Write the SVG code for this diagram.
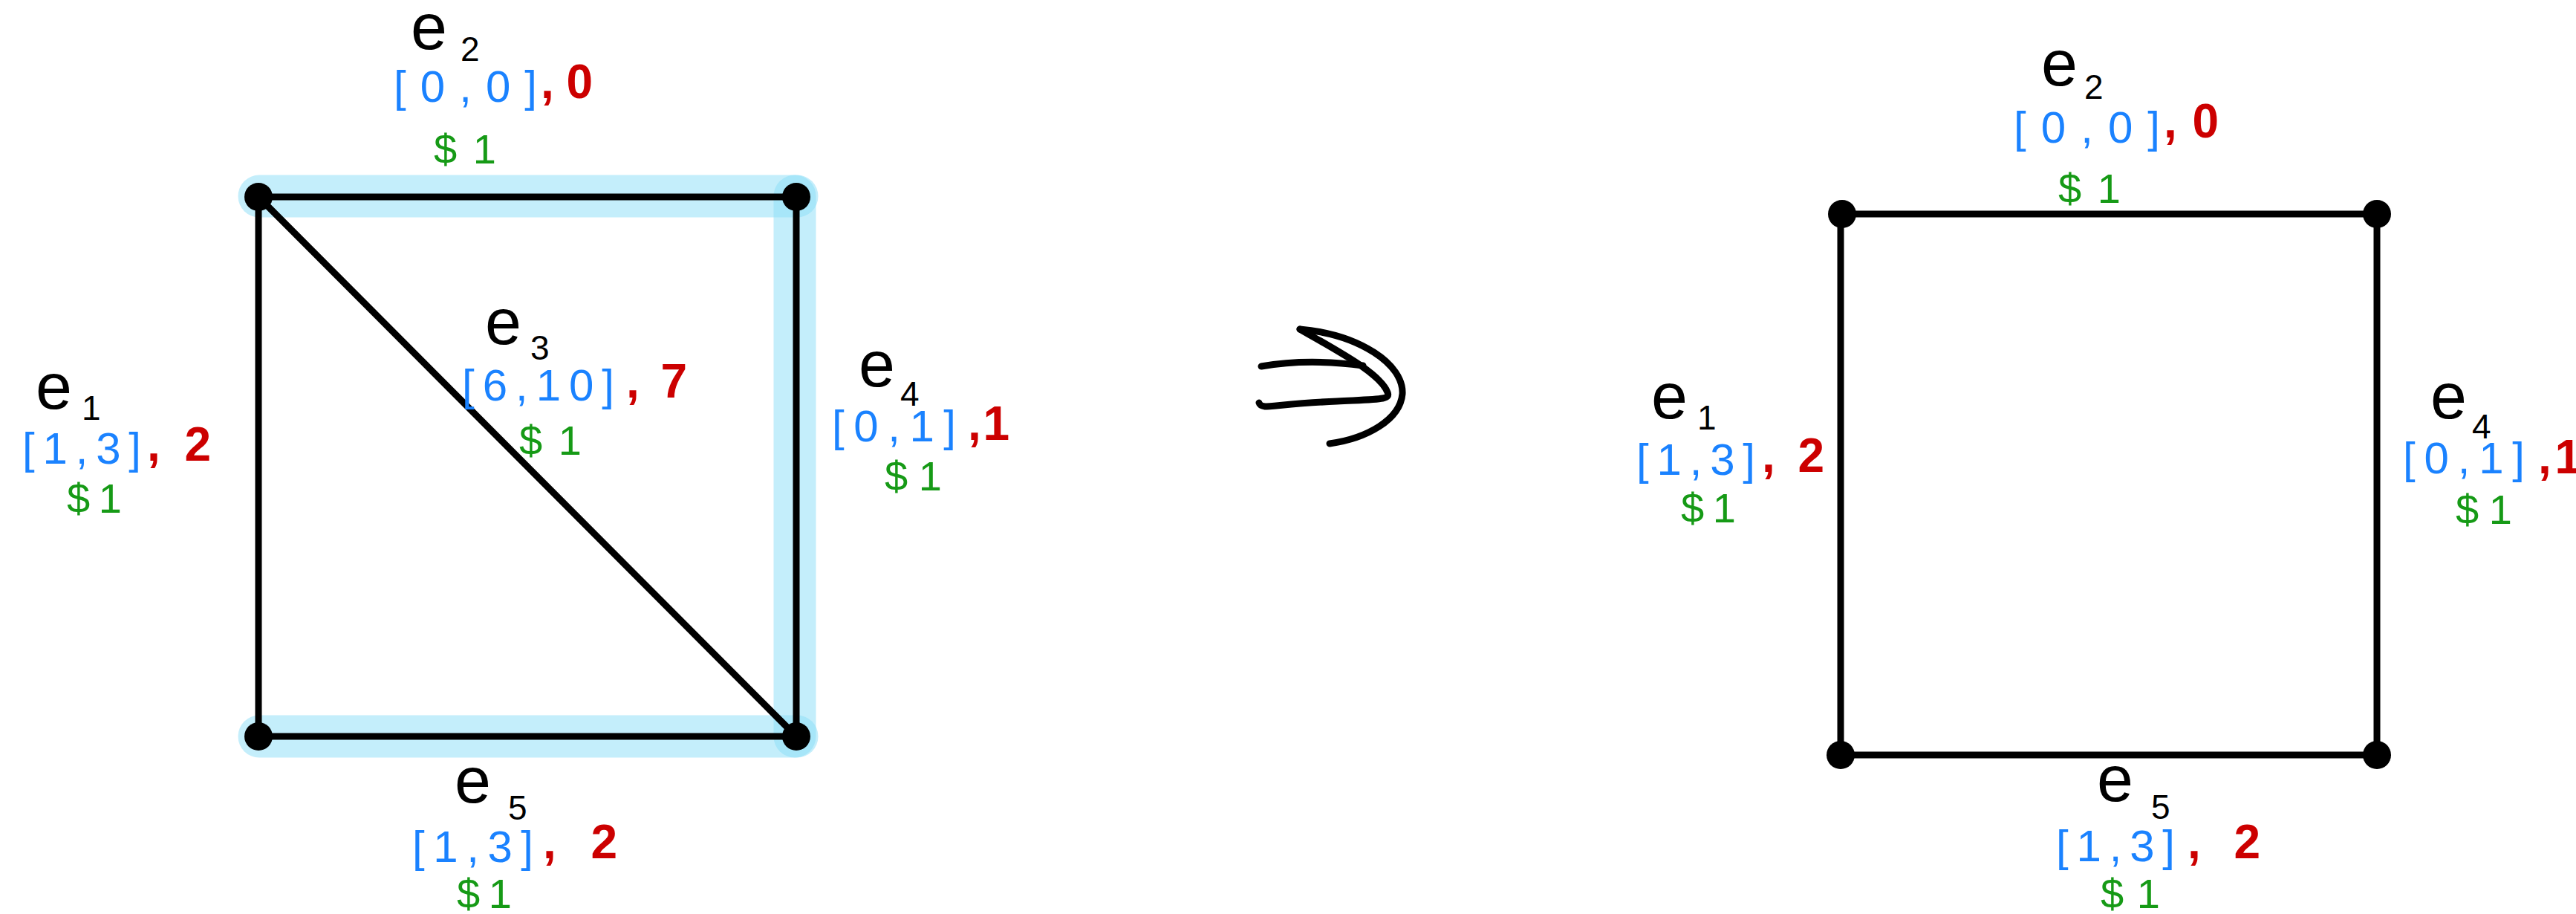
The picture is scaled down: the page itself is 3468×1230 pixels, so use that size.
<svg xmlns="http://www.w3.org/2000/svg" width="3468" height="1230" viewBox="0 0 3468 1230">
<style>
.hl{stroke:rgb(137,221,247);stroke-opacity:0.5;stroke-width:57;stroke-linecap:round;fill:none}
.edge{stroke:#000;stroke-width:9;stroke-linecap:round;fill:none}
.node{fill:#000}
.arrow{stroke:#000;stroke-width:9;stroke-linecap:round;stroke-linejoin:round;fill:none}
.e{font-family:"Liberation Sans",Arial,sans-serif;font-size:88px;fill:#000}
.sub{font-size:46px}
.iv{font-family:"Liberation Sans",Arial,sans-serif;font-size:60px;fill:#1a82ff}
.fl{font-family:"Liberation Sans",Arial,sans-serif;font-size:64px;font-weight:bold;fill:#cc0000}
.cost{font-family:"Liberation Sans",Arial,sans-serif;font-size:56px;fill:#169a16}
</style>
<g id="highlights">
<line class="hl" x1="349" y1="264" x2="1073" y2="264"/>
<line class="hl" x1="1070" y1="264" x2="1070" y2="991"/>
<line class="hl" x1="349" y1="991" x2="1073" y2="991"/>
</g>
<g id="connectors">
<line class="edge" x1="348" y1="265" x2="1073" y2="265"/>
<line class="edge" x1="348" y1="265" x2="348" y2="991"/>
<line class="edge" x1="1072" y1="265" x2="1072" y2="991"/>
<line class="edge" x1="348" y1="991" x2="1072" y2="991"/>
<line class="edge" x1="348" y1="265" x2="1072" y2="991"/>
<line class="edge" x1="2480" y1="288" x2="3200" y2="288"/>
<line class="edge" x1="2478" y1="288" x2="2478" y2="1016"/>
<line class="edge" x1="3200" y1="288" x2="3200" y2="1016"/>
<line class="edge" x1="2478" y1="1016" x2="3200" y2="1016"/>
</g>
<g id="nodes">
<g id="L_tl"><circle class="node" cx="348" cy="265" r="19"/></g>
<g id="L_tr"><circle class="node" cx="1072" cy="265" r="19"/></g>
<g id="L_bl"><circle class="node" cx="348" cy="991" r="19"/></g>
<g id="L_br"><circle class="node" cx="1072" cy="991" r="19"/></g>
<g id="R_tl"><circle class="node" cx="2480" cy="288" r="19"/></g>
<g id="R_tr"><circle class="node" cx="3200" cy="288" r="19"/></g>
<g id="R_bl"><circle class="node" cx="2478" cy="1016" r="19"/></g>
<g id="R_br"><circle class="node" cx="3200" cy="1016" r="19"/></g>
</g>
<g id="arrow">
<path class="arrow" d="M1698,493 Q1760,482 1835,492"/>
<path class="arrow" d="M1750,443 C1800,472 1858,502 1868,528 C1872,538 1860,537 1800,540 C1750,542 1712,547 1703,547 Q1696,546 1695,542"/>
<path class="arrow" d="M1750,443 C1830,450 1890,490 1888,530 C1885,565 1840,590 1790,597"/>
</g>
<g id="label_L_e2">
<text class="e" x="553" y="66">e<tspan class="sub" x="620" y="82">2</tspan></text>
<text class="iv" x="530" y="137" textLength="193" lengthAdjust="spacing">[0,0]</text>
<text class="fl" x="728" y="132" textLength="70" lengthAdjust="spacing">,0</text>
<text class="cost" x="584" y="220" textLength="84" lengthAdjust="spacing">$1</text>
</g>
<g id="label_L_e1">
<text class="e" x="48" y="550">e<tspan class="sub" x="110" y="565">1</tspan></text>
<text class="iv" x="30" y="624" textLength="160" lengthAdjust="spacing">[1,3]</text>
<text class="fl" x="198" y="620" textLength="86" lengthAdjust="spacing">,2</text>
<text class="cost" x="90" y="690" textLength="74" lengthAdjust="spacing">$1</text>
</g>
<g id="label_L_e3">
<text class="e" x="653" y="463">e<tspan class="sub" x="714" y="484">3</tspan></text>
<text class="iv" x="622" y="539" textLength="205" lengthAdjust="spacing">[6,10]</text>
<text class="fl" x="843" y="535" textLength="82" lengthAdjust="spacing">,7</text>
<text class="cost" x="699" y="612" textLength="84" lengthAdjust="spacing">$1</text>
</g>
<g id="label_L_e4">
<text class="e" x="1156" y="520">e<tspan class="sub" x="1212" y="546">4</tspan></text>
<text class="iv" x="1120" y="594" textLength="167" lengthAdjust="spacing">[0,1]</text>
<text class="fl" x="1303" y="592" textLength="56" lengthAdjust="spacing">,1</text>
<text class="cost" x="1191" y="660" textLength="77" lengthAdjust="spacing">$1</text>
</g>
<g id="label_L_e5">
<text class="e" x="612" y="1080">e<tspan class="sub" x="684" y="1103">5</tspan></text>
<text class="iv" x="555" y="1160" textLength="163" lengthAdjust="spacing">[1,3]</text>
<text class="fl" x="731" y="1155" textLength="100" lengthAdjust="spacing">,2</text>
<text class="cost" x="615" y="1222" textLength="74" lengthAdjust="spacing">$1</text>
</g>
<g id="label_R_e2">
<text class="e" x="2748" y="115">e<tspan class="sub" x="2806" y="133">2</tspan></text>
<text class="iv" x="2711" y="192" textLength="197" lengthAdjust="spacing">[0,0]</text>
<text class="fl" x="2913" y="185" textLength="74" lengthAdjust="spacing">,0</text>
<text class="cost" x="2771" y="273" textLength="84" lengthAdjust="spacing">$1</text>
</g>
<g id="label_R_e1">
<text class="e" x="2223" y="563">e<tspan class="sub" x="2285" y="578">1</tspan></text>
<text class="iv" x="2203" y="639" textLength="160" lengthAdjust="spacing">[1,3]</text>
<text class="fl" x="2372" y="635" textLength="84" lengthAdjust="spacing">,2</text>
<text class="cost" x="2263" y="703" textLength="74" lengthAdjust="spacing">$1</text>
</g>
<g id="label_R_e4">
<text class="e" x="3272" y="563">e<tspan class="sub" x="3328" y="590">4</tspan></text>
<text class="iv" x="3235" y="637" textLength="164" lengthAdjust="spacing">[0,1]</text>
<text class="fl" x="3417" y="637" textLength="58" lengthAdjust="spacing">,1</text>
<text class="cost" x="3306" y="705" textLength="76" lengthAdjust="spacing">$1</text>
</g>
<g id="label_R_e5">
<text class="e" x="2823" y="1078">e<tspan class="sub" x="2896" y="1102">5</tspan></text>
<text class="iv" x="2768" y="1159" textLength="160" lengthAdjust="spacing">[1,3]</text>
<text class="fl" x="2945" y="1155" textLength="98" lengthAdjust="spacing">,2</text>
<text class="cost" x="2828" y="1222" textLength="80" lengthAdjust="spacing">$1</text>
</g>
</svg>
